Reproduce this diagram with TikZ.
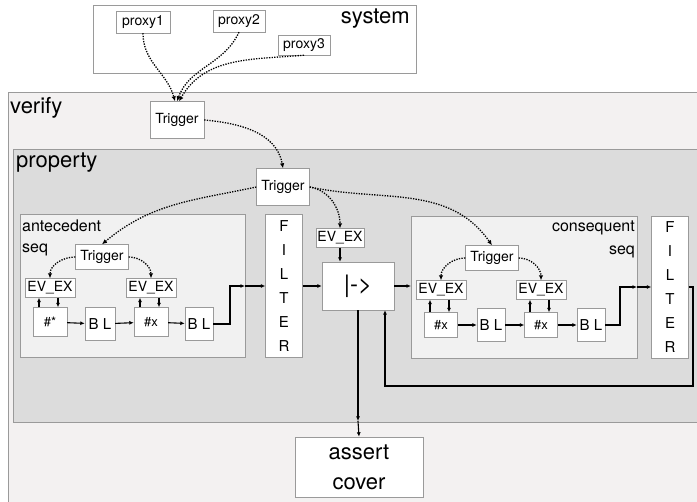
\documentclass[tikz,border=0pt]{standalone}
\usepackage{fontspec}
\setmainfont{TeX Gyre Heros}
\usetikzlibrary{arrows.meta}
\definecolor{verifybg}{HTML}{F3F1F1}
\definecolor{propbg}{HTML}{DCDCDC}
\definecolor{seqbg}{HTML}{F1F1F1}
\definecolor{edge}{HTML}{9A9A9A}
\newcommand{\fs}[1]{\fontsize{#1}{#1}\selectfont}
\begin{document}
\begin{tikzpicture}[x=1pt,y=1pt,
    box/.style={draw=edge,fill=white,inner sep=0pt},
    area/.style={draw=edge,line width=0.8pt},
    trig/.style={line width=1.3pt,dash pattern=on 1.3pt off 1.3pt,-{Latex[length=5pt,width=4.5pt]}},
    flow/.style={line width=1.1pt,-{Latex[length=4.5pt,width=4pt]}}]
    \useasboundingbox (0,0) rectangle (697,-502);
    % containers
    \draw[area,fill=verifybg] (8,-92) rectangle (700,-505);
    \draw[area,fill=propbg] (13,-149) rectangle (700,-422);
    \draw[area,fill=white] (93,-5) rectangle (416,-73);
    \draw[area,fill=seqbg] (20,-214) rectangle (245,-357);
    \draw[area,fill=seqbg] (411,-216) rectangle (637,-358);
    \node[anchor=north east,inner sep=0pt,font=\fs{22}] (syslbl) at (410,-9) {system};
    \node[anchor=west,inner sep=0pt,font=\fs{22}] (verlbl) at (10,-108) {verify};
    \node[anchor=west,inner sep=0pt,font=\fs{22}] (prolbl) at (16,-163) {property};
    \node[anchor=west,inner sep=0pt,font=\fs{16}] (antlbl) at (22,-226) {antecedent};
    \node[anchor=west,inner sep=0pt,font=\fs{16}] (antseq) at (22,-250) {seq};
    \node[anchor=east,inner sep=0pt,font=\fs{16}] (conlbl) at (635,-228) {consequent};
    \node[anchor=east,inner sep=0pt,font=\fs{16}] (conseq) at (635,-252) {seq};
    % system
    \node[box,minimum width=54,minimum height=22,font=\fs{14}] (p1) at (143,-22) {proxy1};
    \node[box,minimum width=52,minimum height=22,font=\fs{14}] (p2) at (239,-21) {proxy2};
    \node[box,minimum width=52,minimum height=20,font=\fs{14}] (p3) at (304,-45) {proxy3};
    % triggers
    \node[box,minimum width=54,minimum height=37,font=\fs{14}] (trigV) at (177,-120) {Trigger};
    \node[box,minimum width=53,minimum height=37,font=\fs{14}] (trigP) at (283,-187) {Trigger};
    \node[box,minimum width=53,minimum height=25,font=\fs{14}] (trigA) at (102,-257) {Trigger};
    \node[box,minimum width=53,minimum height=25,font=\fs{14}] (trigC) at (492,-258) {Trigger};
    % antecedent chain
    \node[box,minimum width=50,minimum height=19,font=\fs{14}] (evA1) at (50,-288) {EV\_EX};
    \node[box,minimum width=50,minimum height=19,font=\fs{14}] (evA2) at (151,-288) {EV\_EX};
    \node[box,minimum width=34,minimum height=29,font=\fs{13}] (hsA) at (50,-322) {\#*};
    \node[box,minimum width=30,minimum height=33,font=\fs{15}] (blA1) at (100,-324) {B L};
    \node[box,minimum width=34,minimum height=29,font=\fs{13}] (hxA) at (151,-322) {\#x};
    \node[box,minimum width=28,minimum height=33,font=\fs{15}] (blA2) at (199,-324) {B L};
    % consequent chain
    \node[box,minimum width=50,minimum height=19,font=\fs{14}] (evC1) at (441,-290) {EV\_EX};
    \node[box,minimum width=50,minimum height=19,font=\fs{14}] (evC2) at (541,-290) {EV\_EX};
    \node[box,minimum width=33,minimum height=25,font=\fs{13}] (hxC1) at (441,-325) {\#x};
    \node[box,minimum width=28,minimum height=33,font=\fs{15}] (blC1) at (491,-325) {B L};
    \node[box,minimum width=33,minimum height=25,font=\fs{13}] (hxC2) at (541,-325) {\#x};
    \node[box,minimum width=28,minimum height=33,font=\fs{15}] (blC2) at (591,-325) {B L};
    % property core
    \node[box,minimum width=37,minimum height=143,align=center,font=\fontsize{15}{24}\selectfont] (filtA) at (284,-286) {F\\I\\L\\T\\E\\R};
    \node[box,minimum width=37,minimum height=142,align=center,font=\fontsize{15}{24}\selectfont] (filtC) at (670,-287) {F\\I\\L\\T\\E\\R};
    \node[box,minimum width=48,minimum height=19,font=\fs{14}] (evM) at (340,-238) {EV\_EX};
    \node[box,minimum width=72,minimum height=48,font=\fs{24}] (imp) at (358,-286) {|->};
    \node[box,minimum width=128,minimum height=60,align=center,font=\fontsize{22}{30}\selectfont] (assert) at (359,-467) {assert\\cover};
    \coordinate (portA) at (245,-286);
    \coordinate (portC) at (637,-287);
    \coordinate (propOut) at (358,-421);
    \coordinate (fbk) at (385,-386);
    % trigger fan-out
    \draw[trig] (p1.south) to[out=-90,in=105] ([xshift=-2]trigV.north);
    \draw[trig] (p2.south) to[out=-115,in=70] (trigV.north);
    \draw[trig] (p3.south) to[out=185,in=60] ([xshift=2]trigV.north);
    \draw[trig] (trigV.east) to[out=-5,in=100] (trigP.north);
    \draw[trig] (trigP.west) to[out=192,in=40] (trigA.north);
    \draw[trig] (trigP.east) to[out=-10,in=90] (evM.north);
    \draw[trig] (trigP.east) to[out=-12,in=125] (trigC.north);
    \foreach \t/\l/\r in {trigA/evA1/evA2,trigC/evC1/evC2} {
        \draw[trig] (\t.west) to[out=180,in=90] (\l.north);
        \draw[trig] (\t.east) to[out=0,in=90] (\r.north);
    }
    % event handshakes
    \foreach \e/\h in {evA1/hsA,evA2/hxA,evC1/hxC1,evC2/hxC2} {
        \draw[flow] ([xshift=-11]\h.north) -- ([xshift=-11]\e.south);
        \draw[flow] ([xshift=8]\e.south) -- ([xshift=8]\h.north);
    }
    % sequences
    \draw[flow] (hsA) -- (blA1);
    \draw[flow] (blA1) -- (hxA);
    \draw[flow] (hxA) -- (blA2);
    \draw[flow] (hxC1) -- (blC1);
    \draw[flow] (blC1) -- (hxC2);
    \draw[flow] (hxC2) -- (blC2);
    \draw[flow,line width=1.6pt] (blA2.east) -- ++(17,0) |- (portA);
    \draw[flow] (portA) -- (filtA.west);
    \draw[flow,line width=1.6pt] (blC2.east) -- ++(15,0) |- (portC);
    \draw[flow] (portC) -- (filtC.west);
    % implication
    \draw[flow] (filtA.east) -- (imp.west);
    \draw[flow] (imp.east) -- (imp.east -| 411,0);
    \draw[flow] (evM.south) -- (evM.south |- imp.north);
    \draw[flow,line width=1.6pt] (filtC.east) -- ++(4,0) |- (fbk) -- (fbk |- imp.south);
    \draw[flow] (imp.south) -- (propOut);
    \draw[flow] (propOut) -- (assert.north);
\end{tikzpicture}
\end{document}
